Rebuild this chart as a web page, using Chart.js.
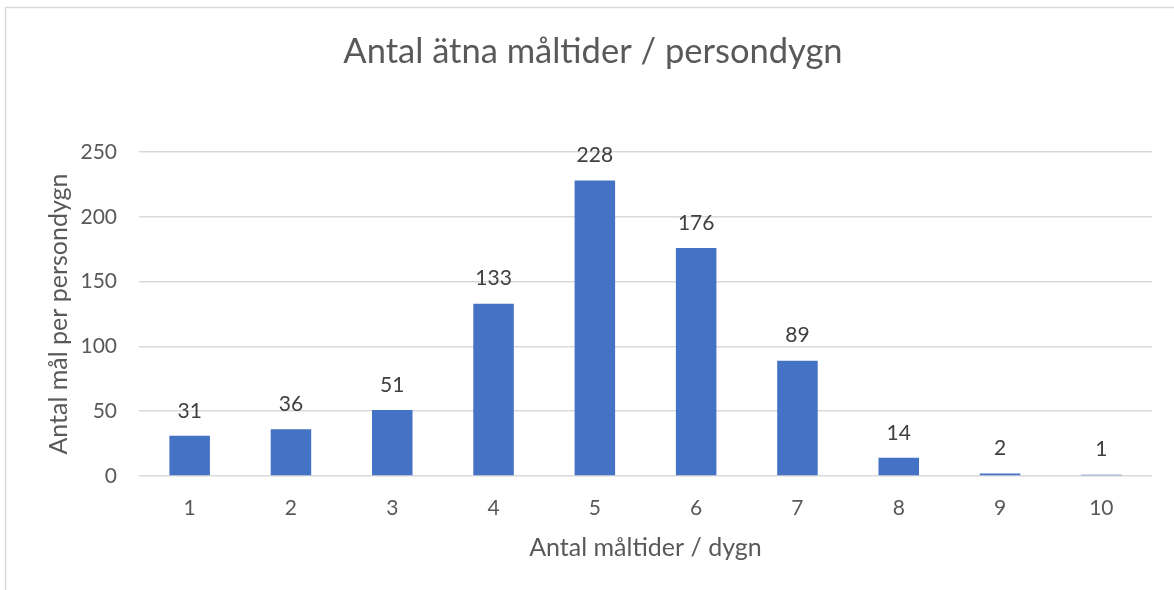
<!DOCTYPE html>
<html><head><meta charset="utf-8">
<script src="https://cdn.jsdelivr.net/npm/chart.js@4"></script>
<style>html,body{margin:0;padding:0;background:#fff;overflow:hidden}#wrap{position:relative;width:1174px;height:590px}</style>
</head><body><div id="wrap"><canvas id="c"></canvas></div>
<script>
const categories = ['1','2','3','4','5','6','7','8','9','10'];
const values = [31,36,51,133,228,176,89,14,2,1];
const yMin = 0, yMax = 250, yStep = 50;
const chartTitle = 'Antal ätna måltider / persondygn';
const xTitle = 'Antal måltider / dygn';
const yTitle = 'Antal mål per persondygn';

const FONT = 'Lato';
const borderPlugin = {
  id: 'outerBorder',
  beforeDraw(chart) {
    const ctx = chart.ctx;
    ctx.save();
    ctx.strokeStyle = '#d9d9d9';
    ctx.lineWidth = 1.5;
    ctx.strokeRect(5.5, 7.5, 2000, 2000);
    ctx.restore();
  }
};
const labelPlugin = {
  id: 'valueLabels',
  afterDatasetsDraw(chart) {
    const ctx = chart.ctx;
    const meta = chart.getDatasetMeta(0);
    ctx.save();
    ctx.font = '21px ' + FONT;
    ctx.fillStyle = '#404040';
    ctx.textAlign = 'center';
    ctx.textBaseline = 'middle';
    meta.data.forEach((el, i) => {
      ctx.fillText(String(chart.data.datasets[0].data[i]), el.x, el.y - 25);
    });
    ctx.restore();
  }
};

new Chart(document.getElementById('c'), {
  type: 'bar',
  data: {
    labels: categories,
    datasets: [{
      data: values,
      backgroundColor: '#4472C4',
      borderWidth: 0,
      barPercentage: 0.4,
      categoryPercentage: 1.0
    }]
  },
  options: {
    responsive: true,
    maintainAspectRatio: false,
    animation: false,
    devicePixelRatio: 1,
    layout: { padding: { left: 34, right: 22, top: 0, bottom: 0 } },
    plugins: {
      legend: { display: false },
      tooltip: { enabled: false },
      title: {
        display: true,
        text: chartTitle,
        color: '#595959',
        font: { family: FONT, size: 34.5, weight: 'normal', lineHeight: 1.2 },
        padding: { top: 31.3, bottom: 79.3 }
      }
    },
    scales: {
      x: {
        grid: { display: false, drawTicks: false },
        border: { display: false },
        ticks: { color: '#595959', font: { family: FONT, size: 21 }, padding: 20 },
        title: { display: true, text: xTitle, color: '#595959', font: { family: FONT, size: 25 }, padding: { top: 0, bottom: 27 } },
        afterFit(s) { s.height = 114; }
      },
      y: {
        min: yMin, max: yMax,
        ticks: { stepSize: yStep, color: '#595959', font: { family: FONT, size: 21 }, padding: 22 },
        grid: { color: '#d9d9d9', lineWidth: 1.5, drawTicks: false },
        border: { display: false },
        title: { display: true, text: yTitle, color: '#595959', font: { family: FONT, size: 25 }, padding: { top: 10, bottom: 0 } },
        afterFit(s) { s.width = 105; }
      }
    }
  },
  plugins: [borderPlugin, labelPlugin]
});
</script></body></html>
